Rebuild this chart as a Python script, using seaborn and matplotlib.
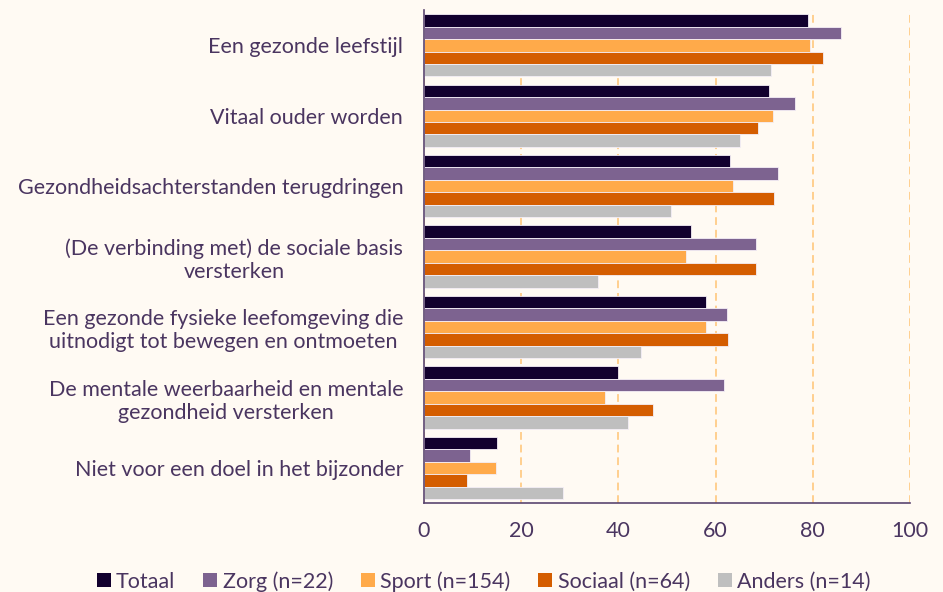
import matplotlib
matplotlib.use("Agg")
import matplotlib.pyplot as plt
import seaborn as sns
import pandas as pd
from matplotlib.patches import Patch

categories = [
    "Een gezonde leefstijl",
    "Vitaal ouder worden",
    "Gezondheidsachterstanden terugdringen",
    "(De verbinding met) de sociale basis\nversterken",
    "Een gezonde fysieke leefomgeving die\nuitnodigt tot bewegen en ontmoeten",
    "De mentale weerbaarheid en mentale\ngezondheid versterken",
    "Niet voor een doel in het bijzonder",
]
series = ["Totaal", "Zorg (n=22)", "Sport (n=154)", "Sociaal (n=64)", "Anders (n=14)"]
totaal = [79.1, 71.0, 63.0, 55.0, 58.0, 40.0, 15.0]
zorg = [85.8, 76.3, 72.9, 68.2, 62.3, 61.8, 9.4]
sport = [79.4, 71.7, 63.6, 54.0, 58.1, 37.3, 14.8]
sociaal = [82.1, 68.8, 72.0, 68.4, 62.5, 47.2, 8.9]
anders = [71.3, 65.1, 50.9, 35.8, 44.7, 41.9, 28.6]
xticks = [0, 20, 40, 60, 80, 100]

colors = ["#12002e", "#7d6390", "#ffaa4a", "#d45d00", "#bfbfbf"]
bg = "#fffaf3"
txt = "#4a3560"

rows = []
for s, vals in zip(series, [totaal, zorg, sport, sociaal, anders]):
    for c, v in zip(categories, vals):
        rows.append({"cat": c, "series": s, "value": v})
df = pd.DataFrame(rows)

sns.set_theme(style="white")
plt.rcParams["font.family"] = ["Lato", "DejaVu Sans"]

fig = plt.figure(figsize=(9.43, 5.92), dpi=100, facecolor=bg)
ax = fig.add_axes([0.4496, 0.150, 0.5155, 0.833])
ax.set_facecolor(bg)

sns.barplot(data=df, y="cat", x="value", hue="series", order=categories,
            hue_order=series, palette=colors, saturation=1, orient="h", width=0.885,
            edgecolor="#f4eef6", linewidth=0.6, ax=ax, legend=False, zorder=3)

ax.set_xlim(0, 100)
ax.set_xticks(xticks)
ax.set_xlabel("")
ax.set_ylabel("")
ax.grid(axis="x", color="#ffcf8f", linestyle=(0, (4, 2.5)), linewidth=1.4, zorder=0)
ax.grid(axis="y", visible=False)
for side in ["top", "right"]:
    ax.spines[side].set_visible(False)
for side in ["left", "bottom"]:
    ax.spines[side].set_color("#5a4570")
    ax.spines[side].set_linewidth(1.2)
    ax.spines[side].set_zorder(4)

ax.tick_params(axis="x", length=0, pad=13, labelsize=15.5, labelcolor=txt)
ax.tick_params(axis="y", length=0, pad=15, labelsize=15.5, labelcolor=txt)
for lab in ax.get_yticklabels():
    lab.set_multialignment("center")

handles = [Patch(facecolor=c, edgecolor="none") for c in colors]
fig.legend(handles, series, loc="center", bbox_to_anchor=(0.513, 0.018), ncol=5,
           frameon=False, fontsize=15.5, labelcolor=txt, handlelength=0.65,
           handleheight=0.65, handletextpad=0.25, columnspacing=1.3)

fig.savefig("out.png", dpi=100, facecolor=bg)
